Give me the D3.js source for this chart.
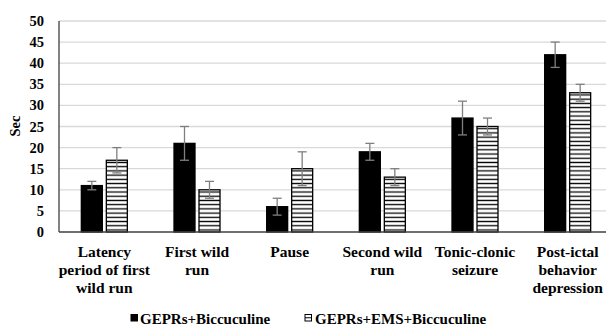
<!DOCTYPE html>
<html>
<head>
<meta charset="utf-8">
<script src="https://cdn.jsdelivr.net/npm/d3@7"></script>
<style>
  body { margin: 0; background: #fff; }
  svg text { font-family: "Liberation Serif", "Times New Roman", serif; font-weight: bold; fill: #000; }
</style>
</head>
<body>
<div id="chart"></div>
<script>
// data
const categories = ['Latency period of first wild run', 'First wild run', 'Pause', 'Second wild run', 'Tonic-clonic seizure', 'Post-ictal behavior depression'];
const categoryLines = [
    ['Latency', 'period of first', 'wild run'],
    ['First wild', 'run'],
    ['Pause'],
    ['Second wild', 'run'],
    ['Tonic-clonic', 'seizure'],
    ['Post-ictal', 'behavior', 'depression']
];
const seriesNames = ['GEPRs+Biccuculine', 'GEPRs+EMS+Biccuculine'];
const biccValues = [11, 21, 6, 19, 27, 42];
const biccErrors = [1, 4, 2, 2, 4, 3];
const emsValues = [17, 10, 15, 13, 25, 33];
const emsErrors = [3, 2, 4, 2, 2, 2];
const yTicks = [0, 5, 10, 15, 20, 25, 30, 35, 40, 45, 50];

const width = 606, height = 327;

const svg = d3.select('#chart')
    .append('svg')
    .attr('width', width)
    .attr('height', height);

// horizontal hatch for the second series
const defs = svg.append('defs');
const pat = defs.append('pattern')
    .attr('id', 'hatch')
    .attr('patternUnits', 'userSpaceOnUse')
    .attr('width', 8)
    .attr('height', 4.22);
pat.append('rect').attr('width', 8).attr('height', 4.22).attr('fill', '#fff');
pat.append('line')
    .attr('x1', 0).attr('x2', 8)
    .attr('y1', 2.1).attr('y2', 2.1)
    .attr('stroke', '#000').attr('stroke-width', 1.3);

const yScale = d3.scaleLinear()
    .domain([0, 50])
    .range([232, 21]);

const x0 = d3.scaleBand()
    .domain(categories)
    .range([58, 614]);

const x1 = d3.scaleBand()
    .domain(seriesNames)
    .range([-23, 23])
    .paddingInner(0.16);

// gridlines
svg.append('g')
    .selectAll('line')
    .data(yTicks.filter(d => d > 0))
    .enter()
    .append('line')
    .attr('x1', 59)
    .attr('x2', width)
    .attr('y1', d => yScale(d))
    .attr('y2', d => yScale(d))
    .attr('stroke', '#d9d9d9')
    .attr('stroke-width', 1.3);

// y tick labels
svg.append('g')
    .selectAll('text')
    .data(yTicks)
    .enter()
    .append('text')
    .attr('x', 44)
    .attr('y', d => yScale(d))
    .attr('dy', '0.35em')
    .attr('text-anchor', 'end')
    .attr('font-size', '14.5px')
    .text(d => d);

svg.append('text')
    .attr('transform', 'translate(20, 126) rotate(-90)')
    .attr('text-anchor', 'middle')
    .attr('font-size', '14.5px')
    .text('Sec');

const rows = categories.map((c, i) => ({
    cat: c,
    bars: [
        { s: seriesNames[0], v: biccValues[i], e: biccErrors[i] },
        { s: seriesNames[1], v: emsValues[i], e: emsErrors[i] }
    ]
}));

const groups = svg.append('g')
    .selectAll('g')
    .data(rows)
    .enter()
    .append('g')
    .attr('transform', d => `translate(${x0(d.cat) + x0.bandwidth() / 2}, 0)`);

groups.selectAll('rect')
    .data(d => d.bars)
    .enter()
    .append('rect')
    .attr('x', d => x1(d.s))
    .attr('y', d => yScale(d.v))
    .attr('width', x1.bandwidth())
    .attr('height', d => yScale(0) - yScale(d.v))
    .attr('fill', d => d.s === seriesNames[0] ? '#000' : 'url(#hatch)')
    .attr('stroke', '#000')
    .attr('stroke-width', 1.3);

// error bars
const err = groups.selectAll('g.err')
    .data(d => d.bars)
    .enter()
    .append('g')
    .attr('class', 'err')
    .attr('stroke', '#7f7f7f')
    .attr('stroke-width', 1.3);

err.append('line')
    .attr('x1', d => x1(d.s) + x1.bandwidth() / 2)
    .attr('x2', d => x1(d.s) + x1.bandwidth() / 2)
    .attr('y1', d => yScale(d.v + d.e))
    .attr('y2', d => yScale(d.v - d.e));

[1, -1].forEach(sign => {
    err.append('line')
        .attr('x1', d => x1(d.s) + x1.bandwidth() / 2 - 4.5)
        .attr('x2', d => x1(d.s) + x1.bandwidth() / 2 + 4.5)
        .attr('y1', d => yScale(d.v + sign * d.e))
        .attr('y2', d => yScale(d.v + sign * d.e));
});

// axes lines
svg.append('line')
    .attr('x1', 59).attr('x2', 59)
    .attr('y1', yScale(50)).attr('y2', yScale(0))
    .attr('stroke', '#404040').attr('stroke-width', 1.3);
svg.append('line')
    .attr('x1', 59).attr('x2', width)
    .attr('y1', yScale(0)).attr('y2', yScale(0))
    .attr('stroke', '#404040').attr('stroke-width', 1.3);

// category labels
const labels = svg.append('g')
    .selectAll('text')
    .data(categories)
    .enter()
    .append('text')
    .attr('text-anchor', 'middle')
    .attr('font-size', '15.5px');

labels.selectAll('tspan')
    .data((d, i) => categoryLines[i].map(t => ({ t: t, c: d })))
    .enter()
    .append('tspan')
    .attr('x', d => x0(d.c) + x0.bandwidth() / 2)
    .attr('y', (d, j) => 257 + j * 18)
    .text(d => d.t);

// legend
const legendX = [131, 305];
const legend = svg.selectAll('.legend')
    .data(seriesNames)
    .enter()
    .append('g')
    .attr('class', 'legend')
    .attr('transform', (d, i) => `translate(${legendX[i]}, 314.5)`);

legend.append('rect')
    .attr('width', 6.5)
    .attr('height', 6.5)
    .attr('fill', (d, i) => i === 0 ? '#000' : '#fff')
    .attr('stroke', '#000')
    .attr('stroke-width', 1);

legend.filter((d, i) => i === 1)
    .append('line')
    .attr('x1', 0).attr('x2', 6.5)
    .attr('y1', 3.25).attr('y2', 3.25)
    .attr('stroke', '#000').attr('stroke-width', 1);

legend.append('text')
    .attr('x', (d, i) => i === 0 ? 9 : 10)
    .attr('y', 9)
    .attr('font-size', '15px')
    .text(d => d);
</script>
</body>
</html>
